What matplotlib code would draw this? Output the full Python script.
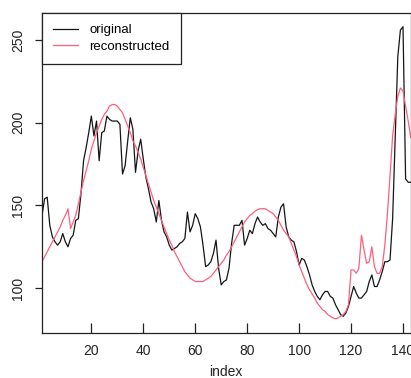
import matplotlib
matplotlib.use("Agg")
import matplotlib.pyplot as plt
import numpy as np

original = [144, 154, 155, 138, 131, 128, 126, 128, 133, 128,
            125, 130, 132, 141, 142, 157, 177, 185, 194, 204,
            192, 201, 177, 194, 195, 204, 202, 201, 201, 201,
            199, 169, 174, 189, 203, 196, 170, 183, 190, 178,
            167, 160, 152, 148, 140, 153, 141, 134, 131, 126,
            123, 124, 125, 127, 128, 130, 146, 134, 138, 145,
            142, 137, 126, 113, 114, 116, 121, 129, 112, 102,
            104, 105, 112, 127, 138, 138, 138, 141, 126, 130,
            135, 133, 139, 143, 140, 138, 139, 136, 135, 133,
            131, 143, 149, 151, 137, 131, 129, 128, 122, 114,
            118, 117, 113, 108, 102, 98, 95, 93, 96, 98,
            98, 95, 94, 90, 87, 84, 83, 85, 89, 95,
            101, 97, 94, 94, 96, 98, 104, 108, 101, 101,
            105, 110, 116, 116, 117, 142, 190, 240, 256, 258,
            166, 164, 164]

reconstructed = [116, 119, 122, 125, 128, 131, 134, 137, 141, 144,
                 148, 136, 140, 144, 151, 158, 165, 171, 177, 184,
                 189, 194, 198, 202, 205, 207, 210, 211, 211, 210,
                 208, 206, 202, 198, 194, 189, 186, 182, 178, 173,
                 168, 163, 158, 153, 149, 145, 141, 137, 133, 129,
                 126, 122, 119, 116, 113, 110, 108, 106, 105, 104,
                 104, 104, 104, 105, 106, 107, 109, 111, 113, 115,
                 117, 120, 122, 125, 128, 131, 134, 137, 140, 142,
                 144, 145, 146.5, 147.5, 148, 148, 148, 147, 146, 145,
                 143, 141, 138, 135, 133, 131, 127, 123, 119, 114,
                 110, 106, 102, 99, 96.5, 94, 91, 89, 87, 86,
                 84, 83, 82, 81.5, 82, 83, 84, 86, 90, 111,
                 111, 109, 112, 132, 123, 115, 116, 125, 113, 109,
                 109, 113, 126, 145, 168, 192, 205, 216, 221, 219,
                 210, 201, 191]

x_ticks = [20, 40, 60, 80, 100, 120, 140]
y_ticks = [100, 150, 200, 250]
legend_labels = ["original", "reconstructed"]

plt.rcParams['font.family'] = ['Liberation Sans', 'DejaVu Sans']

W, H = 411, 378
fig = plt.figure(figsize=(W / 100, H / 100), dpi=100)
ax = fig.add_axes([42 / W, (H - 333) / H, (410.8 - 42) / W, (333 - 13) / H])

idx = np.arange(1, len(original) + 1)
ax.plot(idx, original, color='#151515', lw=0.9, label=legend_labels[0])
ax.plot(idx, reconstructed, color='#ff5f7c', lw=0.9, label=legend_labels[1])

ax.set_xlim(1, 143)
ax.set_ylim(72.9, 266.3)
ax.set_xticks(x_ticks)
ax.set_yticks(y_ticks)
ax.set_yticklabels([str(v) for v in y_ticks], rotation=90, va='center')
ax.tick_params(axis='x', direction='in', length=7.2, width=0.9, pad=8.0,
               labelsize=10, colors='#222222')
ax.tick_params(axis='y', direction='out', length=5.0, width=0.9, pad=7.0,
               labelsize=10, colors='#222222')
for s in ax.spines.values():
    s.set_color('#222222')
    s.set_linewidth(0.9)

fig.text(226 / W, 1 - 372 / H, 'index', ha='center', va='center',
         fontsize=10, color='#222222')

leg = ax.legend(loc='upper left', bbox_to_anchor=(0, 1), borderaxespad=0,
                fancybox=False, edgecolor='#222222', framealpha=1,
                handlelength=1.9, handletextpad=0.85, fontsize=9.5,
                borderpad=0.85, labelspacing=0.3)
leg.get_frame().set_linewidth(0.9)

fig.savefig('out.png', dpi=100)
